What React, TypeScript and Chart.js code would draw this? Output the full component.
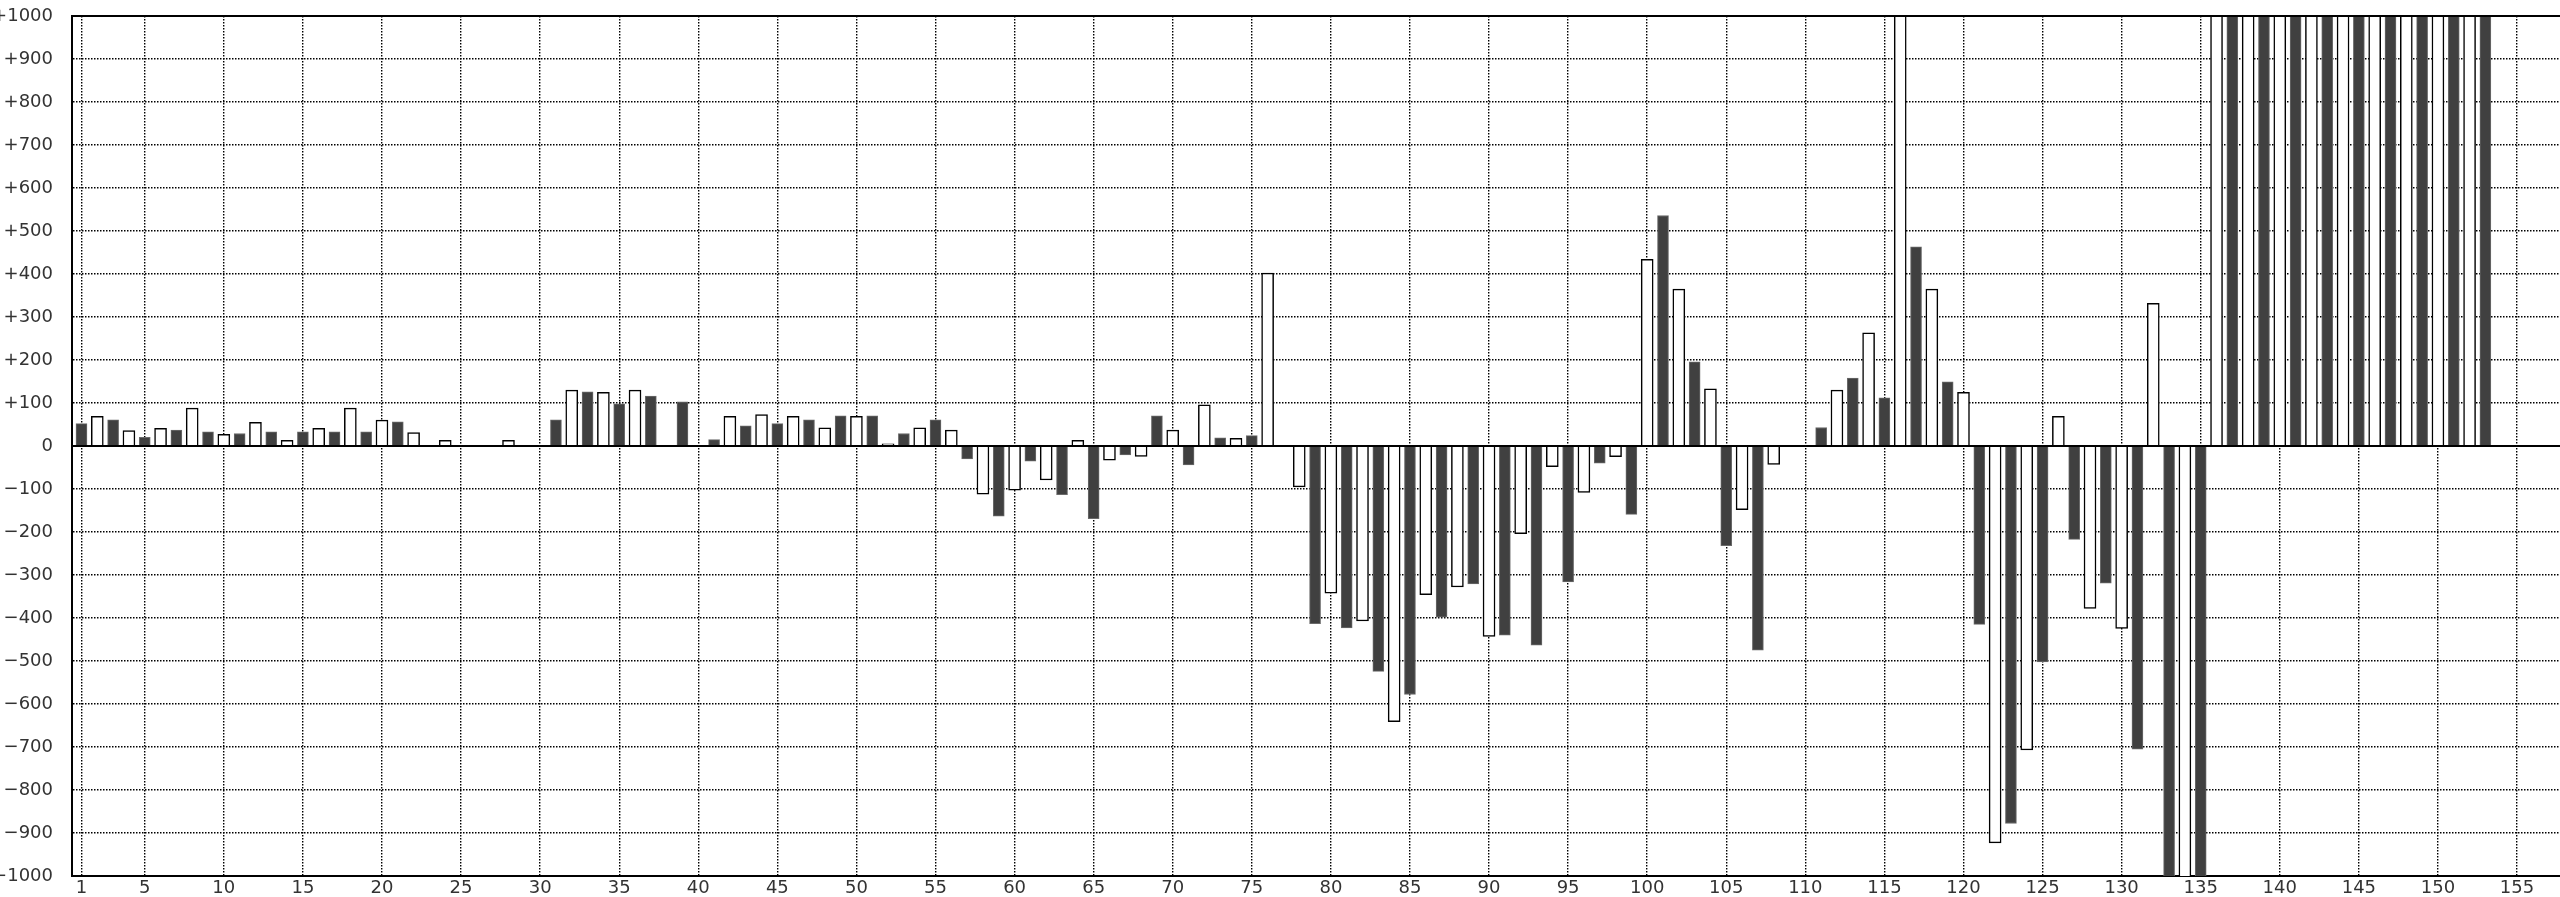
import React, { useEffect, useRef } from 'react';
import { Chart, registerables } from 'chart.js';

Chart.register(...registerables);

// Values per category (1..153); odd categories are the dark bars, even ones the white bars.
const values: number[] = [
  52, 69, 61, 36, 20, 41, 37, 88, 33, 27,
  29, 55, 33, 13, 33, 41, 33, 88, 33, 60,
  56, 31, 0, 13, 0, 0, 0, 13, 0, 0,
  61, 130, 126, 125, 98, 130, 116, 0, 103, 0,
  15, 69, 47, 73, 52, 69, 61, 42, 70, 69,
  70, 5, 29, 42, 61, 37, -30, -112, -163, -103,
  -35, -79, -113, 13, -169, -33, -21, -24, 70, 37,
  -44, 96, 19, 18, 24, 402, 0, -95, -413, -342,
  -423, -407, -524, -641, -578, -346, -398, -328, -321, -443,
  -440, -204, -463, -48, -316, -108, -40, -25, -159, 434,
  536, 365, 196, 133, -232, -148, -475, -43, 0, 0,
  43, 130, 158, 263, 112, 1200, 463, 365, 149, 125,
  -415, -923, -878, -707, -502, 69, -217, -378, -319, -424,
  -705, 332, -1200, -1200, -1200, 1200, 1200, 1200, 1200, 1200,
  1200, 1200, 1200, 1200, 1200, 1200, 1200, 1200, 1200, 1200,
  1200, 1200, 1200,
];

const categories = values.map((_, i) => i + 1);
const darkValues = values.map((v, i) => (i % 2 === 0 ? v : null));
const whiteValues = values.map((v, i) => (i % 2 === 1 ? v : null));

const xTickValues = [1, 5, 10, 15, 20, 25, 30, 35, 40, 45, 50, 55, 60, 65, 70, 75, 80, 85, 90, 95, 100, 105, 110, 115, 120, 125, 130, 135, 140, 145, 150, 155];
const xMin = 0.4;
const xMax = 160.5;
const yMin = -1000;
const yMax = 1000;
const yStep = 100;

const formatY = (v: number): string => (v > 0 ? `+${v}` : v < 0 ? `\u2212${-v}` : '0');

const FONT = { family: 'DejaVu Sans', size: 18 };
const TEXT_COLOR = '#333333';
const DOT = [1.5, 1.5];

const framePlugin = {
  id: 'frameAndZero',
  beforeDatasetsDraw(chart: any) {
    const { ctx, chartArea: a } = chart;
    ctx.save();
    ctx.beginPath();
    ctx.rect(a.left, a.top, a.right - a.left, a.bottom - a.top);
    ctx.clip();
  },
  afterDatasetsDraw(chart: any) {
    const { ctx, chartArea: a, scales } = chart;
    ctx.restore();
    ctx.save();
    ctx.strokeStyle = '#000';
    ctx.lineWidth = 2;
    ctx.setLineDash([]);
    const y0 = Math.round(scales.y.getPixelForValue(0));
    ctx.beginPath();
    ctx.moveTo(a.left, y0);
    ctx.lineTo(a.right, y0);
    ctx.moveTo(a.left - 1, Math.round(a.top));
    ctx.lineTo(a.right, Math.round(a.top));
    ctx.stroke();
    ctx.restore();
  },
};

export default function App() {
  const ref = useRef<HTMLCanvasElement>(null);

  useEffect(() => {
    const canvas = ref.current;
    if (!canvas) return;
    const chart = new Chart(canvas, {
      type: 'bar',
      data: {
        labels: categories,
        datasets: [
          {
            label: 'odd',
            data: darkValues,
            backgroundColor: '#404040',
            borderColor: '#6a6a6a',
            borderWidth: 1,
            barThickness: 11,
            grouped: false,
          } as any,
          {
            label: 'even',
            data: whiteValues,
            backgroundColor: '#ffffff',
            borderColor: '#000000',
            borderWidth: 1.5,
            barThickness: 12,
            grouped: false,
          } as any,
        ],
      },
      options: {
        responsive: false,
        animation: false,
        devicePixelRatio: 1,
        layout: { padding: { top: 16, left: 0, right: 0, bottom: 0 } },
        plugins: {
          legend: { display: false },
          tooltip: { enabled: false },
        },
        events: [],
        scales: {
          x: {
            type: 'linear',
            min: xMin,
            max: xMax,
            offset: false,
            afterBuildTicks: (scale: any) => {
              scale.ticks = xTickValues.map((v) => ({ value: v }));
            },
            afterFit: (scale: any) => {
              scale.height = 21;
              scale.paddingLeft = 0;
              scale.paddingRight = 0;
            },
            ticks: {
              autoSkip: false,
              maxRotation: 0,
              padding: 2,
              color: TEXT_COLOR,
              font: FONT,
              callback: (v: any) => String(v),
            },
            grid: {
              offset: false,
              color: '#000',
              lineWidth: 1.4,
              drawTicks: false,
            },
            border: { display: true, color: '#000', width: 2, dash: DOT },
          },
          y: {
            type: 'linear',
            min: yMin,
            max: yMax,
            afterFit: (scale: any) => {
              scale.width = 82;
              scale.paddingTop = 0;
              scale.paddingBottom = 0;
            },
            ticks: {
              stepSize: yStep,
              padding: 19,
              color: TEXT_COLOR,
              font: FONT,
              callback: (v: any) => formatY(Number(v)),
            },
            grid: {
              color: (ctx: any) => {
                const v = ctx.tick ? ctx.tick.value : null;
                return v === 0 || v === yMin || v === yMax ? 'rgba(0,0,0,0)' : '#000';
              },
              lineWidth: 1.4,
              drawTicks: false,
            },
            border: { display: true, color: '#000', width: 2, dash: DOT },
          },
        },
      } as any,
      plugins: [framePlugin],
    });
    return () => chart.destroy();
  }, []);

  return (
    <div
      style={{
        position: 'fixed',
        left: 0,
        top: 0,
        width: 2560,
        height: 897,
        overflow: 'hidden',
        background: '#fff',
      }}
    >
      <canvas ref={ref} width={2614} height={897} style={{ position: 'absolute', left: -10, top: 0 }} />
    </div>
  );
}
